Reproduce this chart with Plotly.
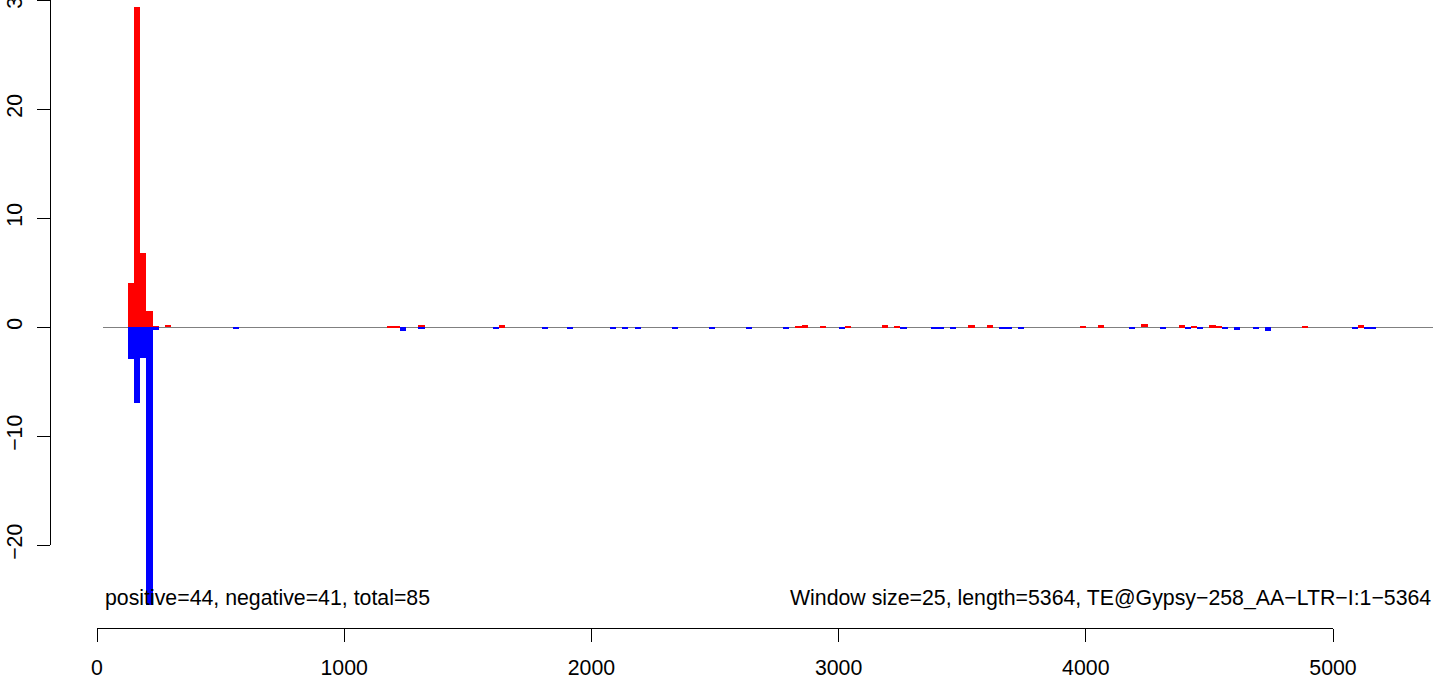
import plotly.graph_objects as go

# ---- data (window starts, window size 25) ----
window = 25
red_starts = [125, 150, 175, 200, 225, 275, 1175, 1200, 1300, 1625, 2825, 2850, 2925,
              3025, 3175, 3225, 3525, 3600, 3975, 4050, 4225, 4375, 4425, 4500, 4525,
              4875, 5100]
red_values = [4.0, 29.4, 6.8, 1.5, 0.1, 0.2, 0.1, 0.1, 0.15, 0.15, 0.1, 0.15, 0.1,
              0.1, 0.15, 0.1, 0.15, 0.15, 0.1, 0.15, 0.25, 0.15, 0.1, 0.15, 0.1,
              0.1, 0.15]
blue_starts = [125, 150, 175, 200, 225, 550, 1225, 1300, 1600, 1800, 1900, 2075, 2125,
               2175, 2325, 2475, 2625, 2775, 3000, 3250, 3375, 3400, 3450, 3650, 3675,
               3725, 4175, 4300, 4400, 4450, 4550, 4600, 4675, 4725, 5075, 5125, 5150]
blue_values = [-2.9, -7.0, -2.8, -25.5, -0.3, -0.1, -0.35, -0.15, -0.1, -0.1, -0.15,
               -0.1, -0.1, -0.15, -0.1, -0.1, -0.15, -0.1, -0.1, -0.1, -0.15, -0.15,
               -0.1, -0.1, -0.1, -0.1, -0.1, -0.1, -0.1, -0.1, -0.1, -0.27, -0.1,
               -0.35, -0.15, -0.15, -0.1]
x_ticks = [0, 1000, 2000, 3000, 4000, 5000]
y_ticks = [-20, -10, 0, 10, 20, 30]
left_label = "positive=44, negative=41, total=85"
right_label = "Window size=25, length=5364, TE@Gypsy\u2212258_AA\u2212LTR\u2212I:1\u22125364"

FONT = "Liberation Sans, Arial, Helvetica, sans-serif"
FS = 21.3

fig = go.Figure()
fig.add_trace(go.Bar(x=red_starts, y=red_values, width=window, offset=0,
                     marker=dict(color="#FF0000", line=dict(width=0)),
                     showlegend=False, hoverinfo="x+y"))
fig.add_trace(go.Bar(x=blue_starts, y=blue_values, width=window, offset=0,
                     marker=dict(color="#0000FF", line=dict(width=0)),
                     showlegend=False, hoverinfo="x+y"))
# display axes subplot
fig.add_trace(go.Scatter(x=[], y=[], xaxis="x2", yaxis="y2",
                         showlegend=False, hoverinfo="skip"))

W, H = 1433, 676
ml, mb = 50, 48
pw, ph = W - ml, H - mb

fig.update_layout(
    width=W, height=H,
    margin=dict(l=ml, r=0, t=0, b=mb, pad=0, autoexpand=False),
    paper_bgcolor="white", plot_bgcolor="rgba(0,0,0,0)",
    barmode="overlay", bargap=0,
    font=dict(family=FONT, size=FS, color="black"),
    xaxis=dict(domain=[(103 - ml) / pw, 1], range=[24.3, 5404.5],
               visible=False, fixedrange=True, automargin=False),
    yaxis=dict(domain=[(ph - 605) / ph, 1], range=[-25.5, 30],
               showgrid=False, showticklabels=False, showline=False,
               zeroline=True, zerolinecolor="#808080", zerolinewidth=1,
               fixedrange=True, automargin=False),
    xaxis2=dict(domain=[(97 - ml) / pw, (1333 - ml) / pw], range=[0, 5000.001],
                anchor="free", position=0, showline=True, linecolor="black",
                linewidth=1.3, ticks="outside", ticklen=13, tickwidth=1.3,
                tickcolor="black", tickvals=x_ticks, ticktext=[str(v) for v in x_ticks],
                showgrid=False, zeroline=False, ticklabelstandoff=7,
                ticklabeloverflow="allow",
                automargin=False, fixedrange=True,
                tickfont=dict(family=FONT, size=FS, color="black")),
    yaxis2=dict(domain=[(ph - 545) / ph, 1], range=[-20, 30.001],
                anchor="free", position=0, showline=True, linecolor="black",
                linewidth=1.3, ticks="outside", ticklen=13, tickwidth=1.3,
                tickcolor="black", tickvals=y_ticks, tickangle=-90,
                showgrid=False, zeroline=False, ticklabelstandoff=6,
                ticklabeloverflow="allow",
                automargin=False, fixedrange=True,
                tickfont=dict(family=FONT, size=FS, color="black")),
    annotations=[
        dict(text=left_label, xref="x domain", yref="y domain", x=0, y=0,
             xanchor="left", yanchor="bottom", showarrow=False, yshift=-7,
             font=dict(family=FONT, size=FS, color="black")),
        dict(text=right_label, xref="x domain", yref="y domain", x=1, y=0,
             xanchor="right", yanchor="bottom", showarrow=False, yshift=-7,
             font=dict(family=FONT, size=FS, color="black")),
    ],
)

fig.write_html("out.html",
               config={"displayModeBar": False},
               post_script="document.body.style.margin='0';"
                           "document.body.style.overflow='hidden';")
